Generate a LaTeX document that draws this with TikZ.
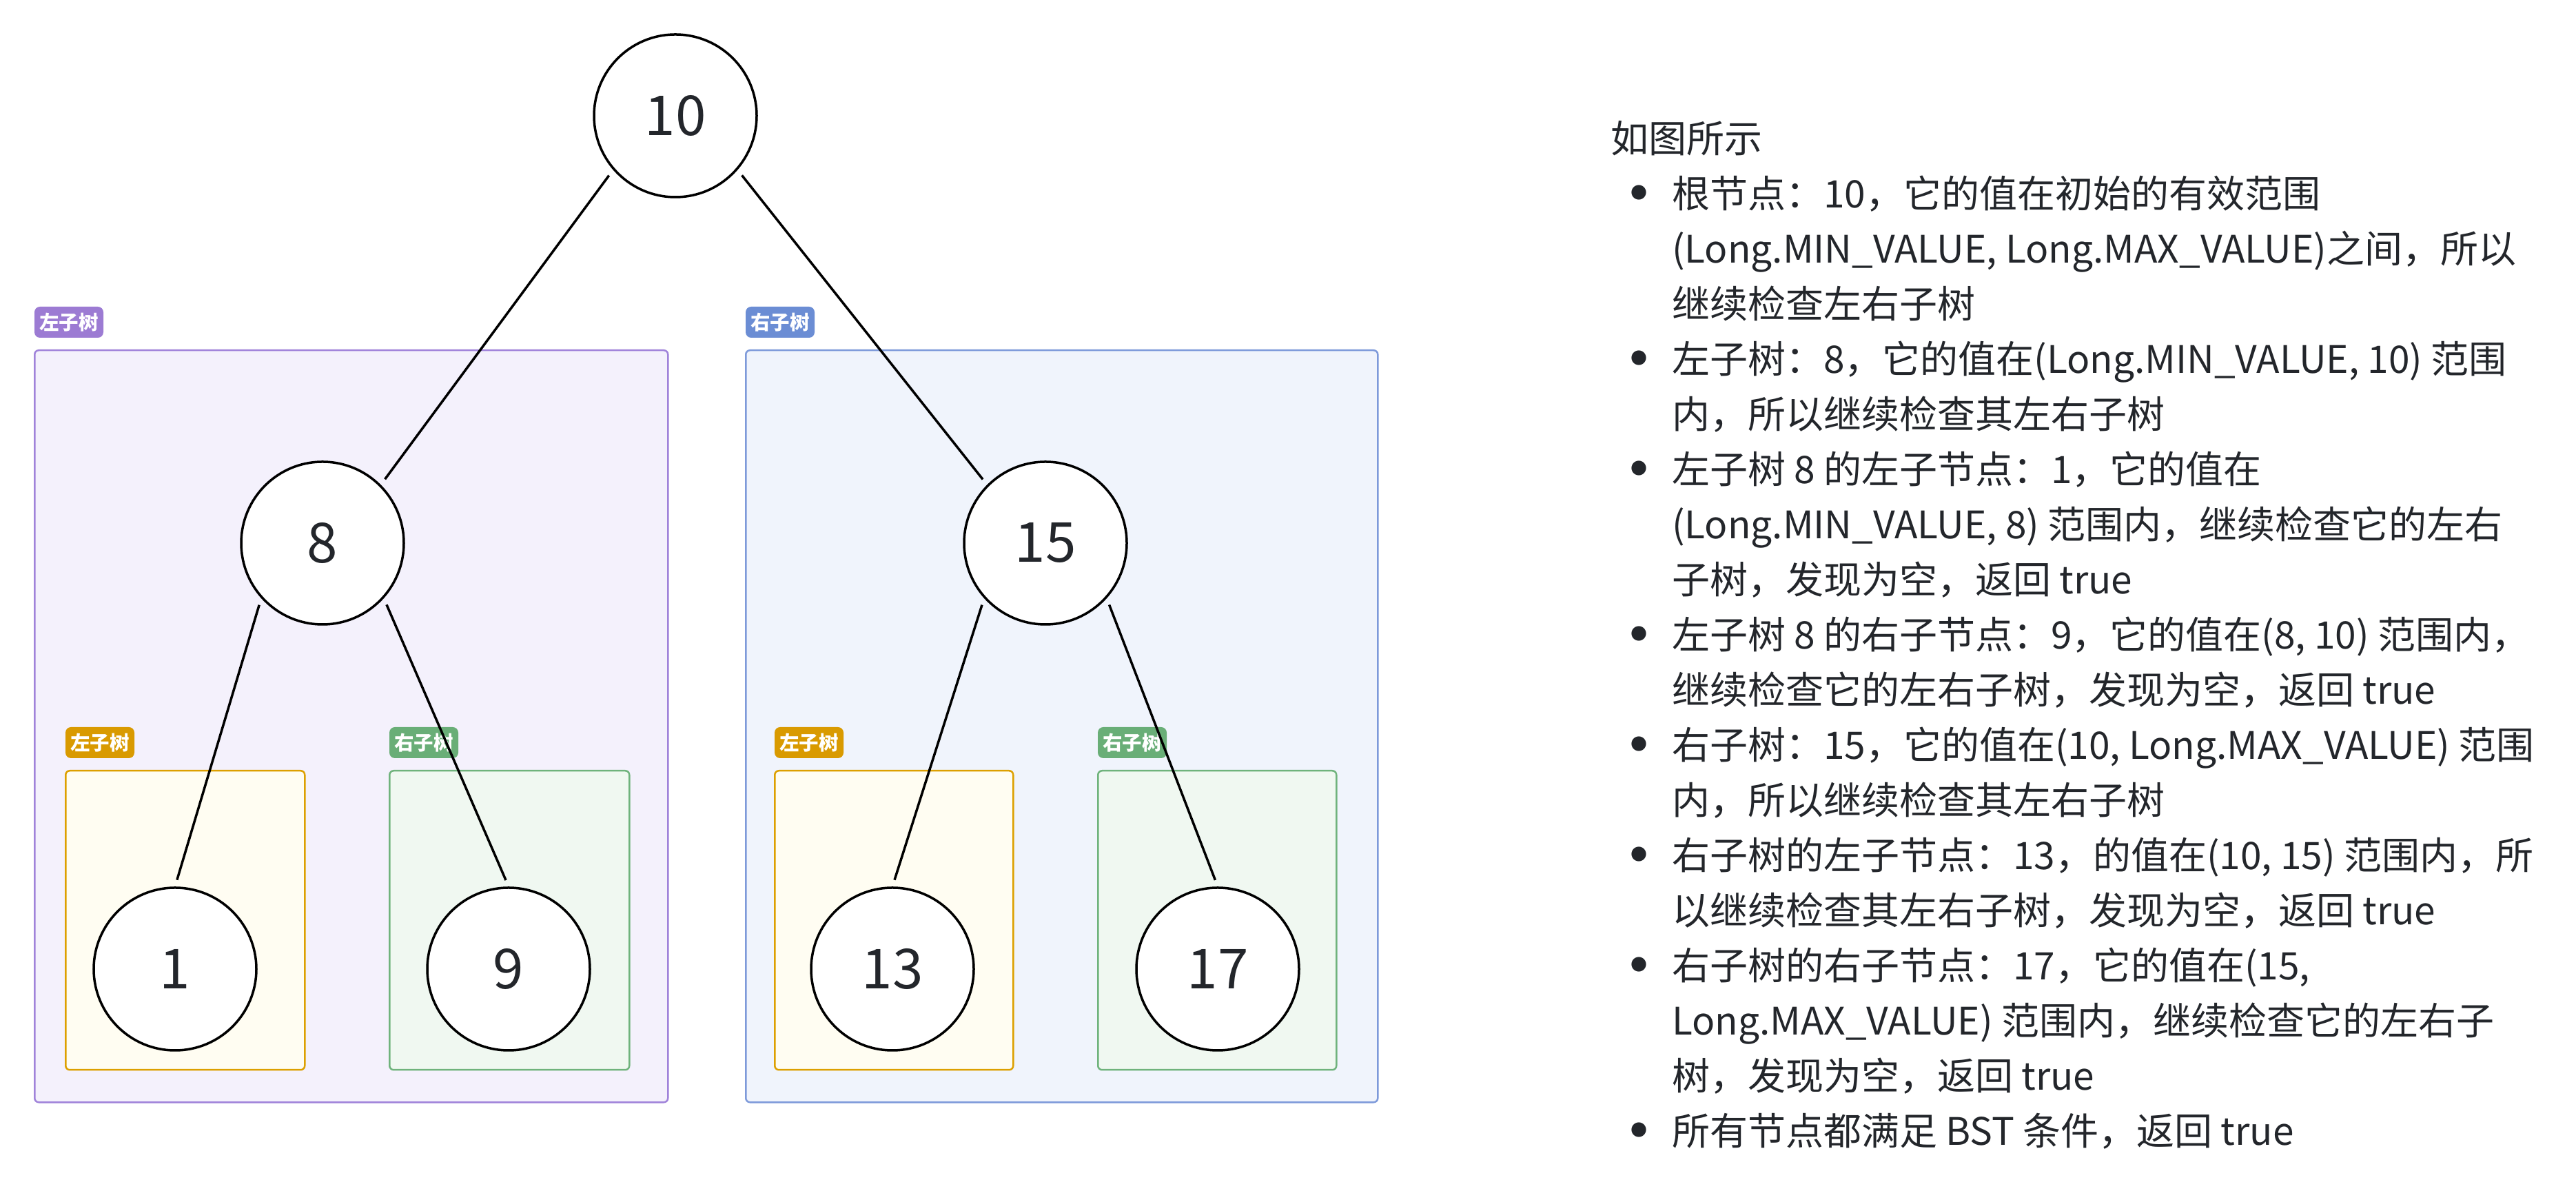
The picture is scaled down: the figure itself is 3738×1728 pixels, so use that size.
\documentclass[tikz,border=0pt]{standalone}
\usepackage{fontspec}
\setmainfont{Noto Sans CJK SC}
\usetikzlibrary{positioning}

\definecolor{ink}{HTML}{23262B}
\definecolor{purpleline}{HTML}{A083DA}
\definecolor{purplefill}{HTML}{F4F1FC}
\definecolor{purpletag}{HTML}{9C7BD3}
\definecolor{blueline}{HTML}{7E9ADA}
\definecolor{bluefill}{HTML}{F0F4FC}
\definecolor{bluetag}{HTML}{6B8DD4}
\definecolor{yellowline}{HTML}{DDA000}
\definecolor{yellowfill}{HTML}{FFFDF2}
\definecolor{yellowtag}{HTML}{D99A00}
\definecolor{greenline}{HTML}{6FB37C}
\definecolor{greenfill}{HTML}{F0F8F1}
\definecolor{greentag}{HTML}{69AE77}

\tikzset{
  bst/.style={circle, draw=black, line width=0.7pt, fill=white, minimum size=47.2pt, inner sep=0pt,
    text=ink, font=\fontsize{16}{16}\selectfont},
  grp/.style 2 args={draw=#1, fill=#2, line width=0.5pt, rounded corners=1.2pt, inner sep=0pt, anchor=north west},
  tag/.style={fill=#1, rounded corners=1.6pt, text=white, inner sep=0pt, minimum width=20pt, minimum height=9pt,
    anchor=south west, font=\fontsize{5.7}{5.7}\selectfont\bfseries},
  edge/.style={line width=0.7pt, shorten <=2pt, shorten >=2pt},
  note/.style={anchor=base west, align=left, inner sep=0pt, text=ink, font=\fontsize{11}{16}\selectfont},
  dotmark/.style={anchor=center, inner sep=0pt, text height=12pt, text depth=0pt, text=ink,
    font=\fontsize{20}{20}\selectfont}
}

\begin{document}
\begin{tikzpicture}[x=0.2pt,y=-0.2pt]
\useasboundingbox (0,0) rectangle (3738,1728);

% subtree boxes
\node[grp={purpleline}{purplefill}, minimum width=183.8pt, minimum height=218.2pt] (lbox) at (49,507) {};
\node[grp={blueline}{bluefill}, minimum width=183.4pt, minimum height=218.2pt] (rbox) at (1081,507) {};
\node[grp={yellowline}{yellowfill}, minimum width=69.4pt, minimum height=86.8pt] (llbox) at (94,1117) {};
\node[grp={greenline}{greenfill}, minimum width=69.6pt, minimum height=86.8pt] (lrbox) at (564,1117) {};
\node[grp={yellowline}{yellowfill}, minimum width=69.2pt, minimum height=86.8pt] (rlbox) at (1123,1117) {};
\node[grp={greenline}{greenfill}, minimum width=69.2pt, minimum height=86.8pt] (rrbox) at (1592,1117) {};

\node[tag=purpletag] (ltag) at ([yshift=3.2pt]lbox.north west) {左子树};
\node[tag=bluetag] (rtag) at ([yshift=3.2pt]rbox.north west) {右子树};
\node[tag=yellowtag] (lltag) at ([yshift=3.2pt]llbox.north west) {左子树};
\node[tag=greentag] (lrtag) at ([yshift=3.2pt]lrbox.north west) {右子树};
\node[tag=yellowtag] (rltag) at ([yshift=3.2pt]rlbox.north west) {左子树};
\node[tag=greentag] (rrtag) at ([yshift=3.2pt]rrbox.north west) {右子树};

% tree
\node[bst] (n10) at (980,168) {10};
\node[bst] (n8) at (468,788) {8};
\node[bst] (n15) at (1517,788) {15};
\node[bst] (n1) at (254,1406) {1};
\node[bst] (n9) at (738,1406) {9};
\node[bst] (n13) at (1295,1406) {13};
\node[bst] (n17) at (1767,1406) {17};

\draw[edge] (n10.221) -- (n8.45);
\draw[edge] (n10.-41) -- (n15.135);
\draw[edge] (n8.222) -- (n1.90);
\draw[edge] (n8.-42) -- (n9.90);
\draw[edge] (n15.222) -- (n13.90);
\draw[edge] (n15.-42) -- (n17.90);

% notes
\node[note] (intro) at (2336,222) {如图所示};
\foreach \y [count=\i] in {288,528,688,928,1088,1248,1408,1648}
  \node[dotmark] (dot\i) at (2378,\y) {•};
\node[note] (i1) at (2425,462) {根节点：10，它的值在初始的有效范围\\(Long.MIN\_VALUE, Long.MAX\_VALUE)之间，所以\\继续检查左右子树};
\node[note] (i2) at (2425,622) {左子树：8，它的值在(Long.MIN\_VALUE, 10) 范围\\内，所以继续检查其左右子树};
\node[note] (i3) at (2425,862) {左子树 8 的左子节点：1，它的值在\\(Long.MIN\_VALUE, 8) 范围内，继续检查它的左右\\子树，发现为空，返回 true};
\node[note] (i4) at (2425,1022) {左子树 8 的右子节点：9，它的值在(8, 10) 范围内，\\继续检查它的左右子树，发现为空，返回 true};
\node[note] (i5) at (2425,1182) {右子树：15，它的值在(10, Long.MAX\_VALUE) 范围\\内，所以继续检查其左右子树};
\node[note] (i6) at (2425,1342) {右子树的左子节点：13，的值在(10, 15) 范围内，所\\以继续检查其左右子树，发现为空，返回 true};
\node[note] (i7) at (2425,1582) {右子树的右子节点：17，它的值在(15,\\Long.MAX\_VALUE) 范围内，继续检查它的左右子\\树，发现为空，返回 true};
\node[note] (i8) at (2425,1662) {所有节点都满足 BST 条件，返回 true};
\end{tikzpicture}
\end{document}
